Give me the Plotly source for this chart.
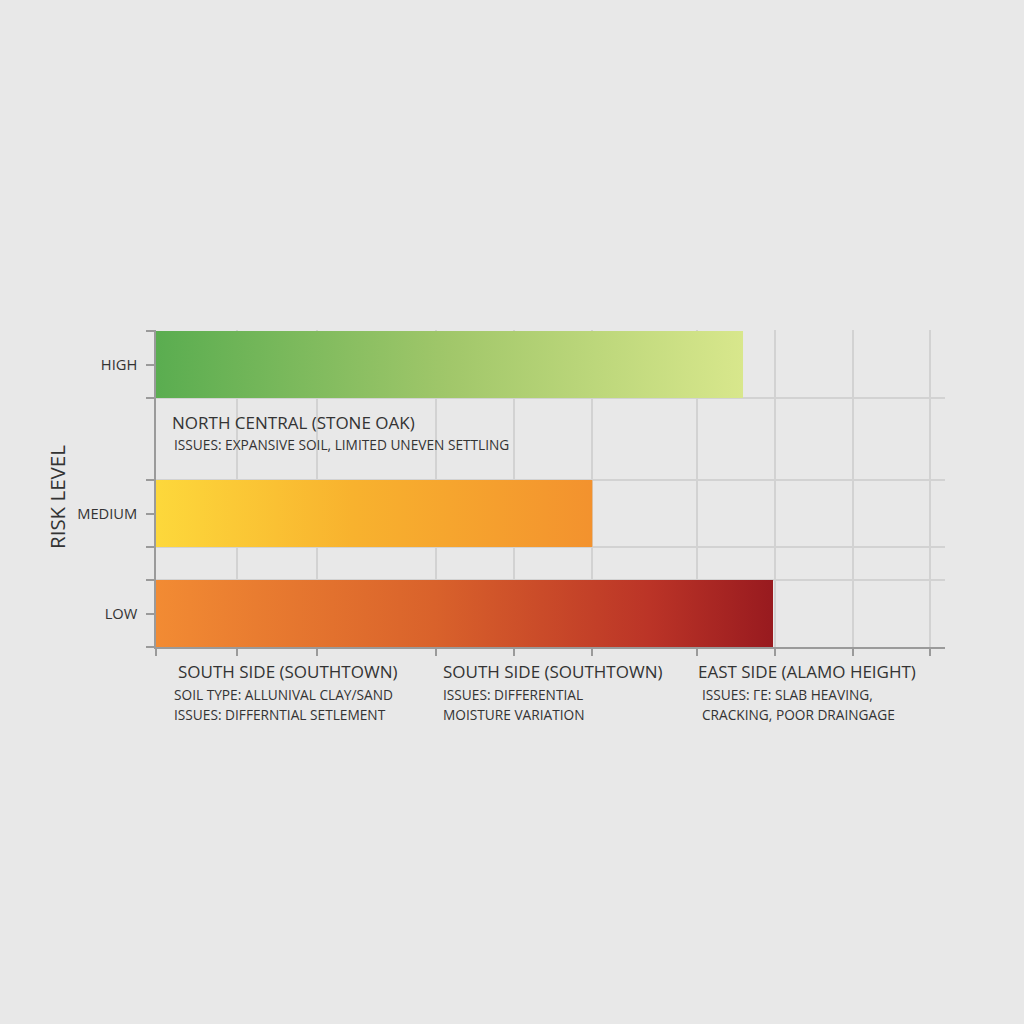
import plotly.graph_objects as go

# ---------------- data ----------------
risk_levels = ["LOW", "MEDIUM", "HIGH"]
risk_scores = [78.2, 55.3, 74.4]
x_grid_values = [0, 10.3, 20.4, 35.5, 45.4, 55.3, 68.6, 78.5, 88.3, 98.1]

region_titles = [
    "NORTH CENTRAL (STONE OAK)",
    "SOUTH SIDE (SOUTHTOWN)",
    "SOUTH SIDE (SOUTHTOWN)",
    "EAST SIDE (ALAMO HEIGHT)",
]
region_notes = [
    ["ISSUES: EXPANSIVE SOIL, LIMITED UNEVEN SETTLING"],
    ["SOIL TYPE: ALLUNIVAL CLAY/SAND", "ISSUES: DIFFERNTIAL SETLEMENT"],
    ["ISSUES: DIFFERENTIAL", "MOISTURE VARIATION"],
    ["ISSUES: ΓE: SLAB HEAVING,", "CRACKING, POOR DRAINGAGE"],
]
axis_title = "RISK LEVEL"

# ---------------- styling / layout ----------------
W = H = 1024
PL, PR, PT, PB = 156, 945, 330, 647           # plot area in pixels
level_pos = {"LOW": 0.0, "MEDIUM": 1.0, "HIGH": 2.49}
half_h = 0.335
y_range = [-0.335, 2.835]
x_range = [0, 100]

gradients = {
    "HIGH": [[0, "#5aad50"], [0.5, "#a1c76a"], [1, "#d8e78c"]],
    "MEDIUM": [[0, "#fdd83b"], [0.45, "#f8b22e"], [1, "#f3922e"]],
    "LOW": [[0, "#f28b33"], [0.45, "#d9622b"], [0.8, "#bb3427"], [1, "#981a1f"]],
}

FONT = "Open Sans, Noto Sans, DejaVu Sans, sans-serif"
TEXT = "#333333"
GRID = "#d2d2d2"
AXIS = "#9a9a9a"
BG = "#e8e8e8"

fig = go.Figure()

for lvl, val in zip(risk_levels, risk_scores):
    c = level_pos[lvl]
    xs = [0, val, val, 0, 0]
    ys = [c - half_h, c - half_h, c + half_h, c + half_h, c - half_h]
    fig.add_trace(go.Scatter(
        x=xs, y=ys, mode="lines", fill="toself",
        line=dict(width=0, color="rgba(0,0,0,0)"),
        fillgradient=dict(type="horizontal", colorscale=gradients[lvl]),
        hoverinfo="skip", showlegend=False,
    ))

edges = []
for lvl in risk_levels:
    edges += [level_pos[lvl] - half_h, level_pos[lvl] + half_h]


def px_x(px):
    return (px - PL) / (PR - PL)


def px_y(py):
    return (PB - py) / (PB - PT)


annotations = []
# group positions in pixels: (title_x, title_y, note_x, note_y0)
groups = [
    (170, 422, 172, 444),
    (176, 671, 172, 694),
    (441, 671, 441, 694),
    (696, 671, 700, 694),
]
for title, notes, (tx, ty, nx, ny) in zip(region_titles, region_notes, groups):
    annotations.append(dict(
        text=title, x=px_x(tx), y=px_y(ty), xref="paper", yref="paper",
        xanchor="left", yanchor="middle", showarrow=False,
        font=dict(family=FONT, size=17, color=TEXT),
    ))
    for i, note in enumerate(notes):
        annotations.append(dict(
            text=note, x=px_x(nx), y=px_y(ny + 20 * i), xref="paper", yref="paper",
            xanchor="left", yanchor="middle", showarrow=False,
            font=dict(family=FONT, size=13.7, color=TEXT),
        ))

annotations.append(dict(
    text=axis_title, x=px_x(57), y=px_y(497), xref="paper", yref="paper",
    xanchor="center", yanchor="middle", showarrow=False, textangle=-90,
    font=dict(family=FONT, size=20.5, color=TEXT),
))

fig.update_layout(
    width=W, height=H,
    margin=dict(l=PL, r=W - PR, t=PT, b=H - PB, pad=0),
    paper_bgcolor=BG, plot_bgcolor=BG,
    showlegend=False,
    annotations=annotations,
    xaxis=dict(
        range=x_range, tickmode="array", tickvals=x_grid_values,
        ticktext=[""] * len(x_grid_values),
        showgrid=True, gridcolor=GRID, gridwidth=1.5,
        ticks="outside", ticklen=7, tickcolor=AXIS, tickwidth=1.5,
        showline=True, linecolor=AXIS, linewidth=1.5,
        zeroline=False, fixedrange=True,
    ),
    yaxis=dict(
        range=y_range, tickmode="array",
        tickvals=[level_pos[l] for l in risk_levels], ticktext=risk_levels,
        showgrid=False, ticks="outside", ticklen=8, tickcolor=AXIS, tickwidth=1.5,
        ticklabelstandoff=6,
        tickfont=dict(family=FONT, size=14.7, color=TEXT),
        showline=True, linecolor=AXIS, linewidth=1.5,
        zeroline=False, fixedrange=True,
        minor=dict(tickmode="array", tickvals=edges, showgrid=True,
                   gridcolor=GRID, gridwidth=1.5, ticks="outside",
                   ticklen=8, tickcolor=AXIS, tickwidth=1.5),
    ),
)

fig.write_html(
    "out.html",
    config={"displayModeBar": False},
    post_script="document.body.style.margin='0';document.body.style.background='%s';" % BG,
)
